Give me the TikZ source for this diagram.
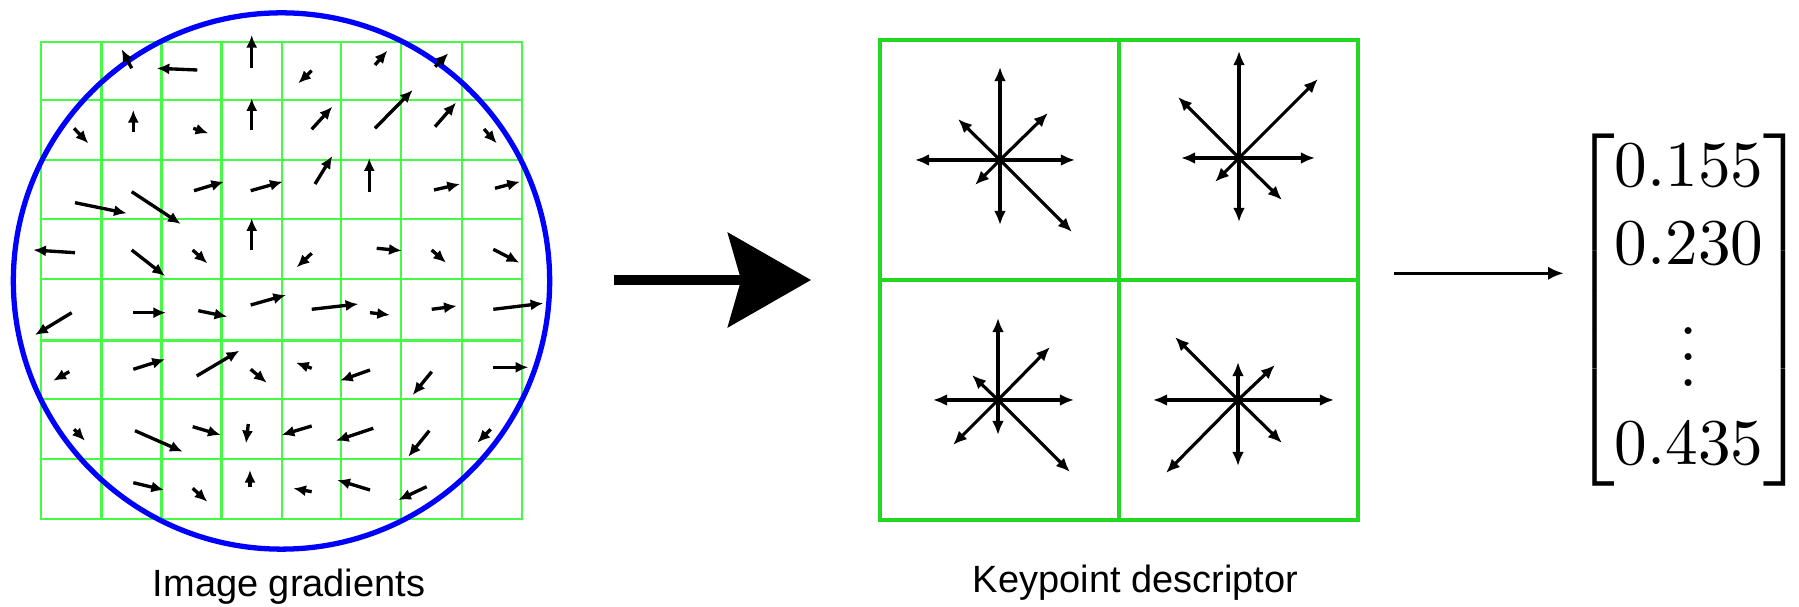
\documentclass[tikz,border=0pt]{standalone}
\usepackage{amsmath}
\usepackage{fontspec}
\newfontfamily\capfont{Liberation Sans}
\usetikzlibrary{arrows.meta}

\definecolor{gridgreen}{RGB}{70,250,70}
\definecolor{boxgreen}{RGB}{35,215,35}

\tikzset{
    gridline/.style={draw=gridgreen, line width=0.8pt},
    gradarrow/.style={line width=0.95pt, -{Latex[length=3.6pt, width=3.2pt]}},
    ray/.style={line width=0.9pt, -{Latex[length=4pt, width=3.4pt]}},
    caption/.style={font=\capfont\fontsize{10.8}{13}\selectfont, anchor=base, inner sep=0pt}
}

\begin{document}
\begin{tikzpicture}[x=0.01cm, y=-0.01cm]
    \useasboundingbox (0,0) rectangle (1799,607);

    % Sample grid
    \draw[gridline] (41,42) rectangle (522,519);
    \draw[gridline] (101.5,42) -- (101.5,519) (161.5,42) -- (161.5,519) (221.5,42) -- (221.5,519)
        (282,42) -- (282,519) (341,42) -- (341,519) (401,42) -- (401,519) (462,42) -- (462,519);
    \draw[gridline] (41,100) -- (522,100) (41,160) -- (522,160) (41,219) -- (522,219)
        (41,279) -- (522,279) (41,340.5) -- (522,340.5) (41,399) -- (522,399) (41,459) -- (522,459);

    % Gaussian window
    \node[circle, draw=blue, line width=1.5pt, minimum size=5.36cm, inner sep=0pt] (patch) at (281.5,281) {};

    % Gradients, row by row
    \draw[gradarrow] (131.7,68.3) -- (121.7,49.3);
    \draw[gradarrow] (197.3,70) -- (156.7,68.3);
    \draw[gradarrow] (251.7,68.3) -- (251.7,35);
    \draw[gradarrow] (311.7,70.7) -- (298.3,83.3);
    \draw[gradarrow] (375,65) -- (387.3,50.7);
    \draw[gradarrow] (435,66.7) -- (448.3,53.3);

    \draw[gradarrow] (74,128.3) -- (88.3,143.3);
    \draw[gradarrow] (133.3,131.7) -- (133.3,110);
    \draw[gradarrow] (193.3,128.3) -- (208.3,133.3);
    \draw[gradarrow] (251.7,130) -- (251.7,98.3);
    \draw[gradarrow] (311.7,129.3) -- (332.3,106.7);
    \draw[gradarrow] (375,128.3) -- (412.7,90);
    \draw[gradarrow] (435,126.7) -- (456,102.7);
    \draw[gradarrow] (484,129) -- (496.7,143.3);

    \draw[gradarrow] (75,202.7) -- (126.7,213.3);
    \draw[gradarrow] (131.7,191.7) -- (180.7,224);
    \draw[gradarrow] (194,190.7) -- (224,181.7);
    \draw[gradarrow] (250.7,190.7) -- (282.7,181.7);
    \draw[gradarrow] (315,184) -- (332.3,156);
    \draw[gradarrow] (369.3,191.7) -- (369.3,158.3);
    \draw[gradarrow] (434,190) -- (460,184);
    \draw[gradarrow] (495,188.3) -- (520,181.7);

    \draw[gradarrow] (75,252.7) -- (33.3,250);
    \draw[gradarrow] (131.7,250) -- (165,276);
    \draw[gradarrow] (192.7,250) -- (207.3,263.3);
    \draw[gradarrow] (251.7,250) -- (251.7,218.3);
    \draw[gradarrow] (311.7,253.3) -- (296.7,267.3);
    \draw[gradarrow] (376.7,248.3) -- (401.7,250.7);
    \draw[gradarrow] (431.7,250) -- (446,262.7);
    \draw[gradarrow] (493.3,249.3) -- (519.3,262.7);

    \draw[gradarrow] (71.7,312.7) -- (35,335);
    \draw[gradarrow] (133.3,312.7) -- (166,312.7);
    \draw[gradarrow] (198.3,310.7) -- (227.3,316.7);
    \draw[gradarrow] (250.7,305) -- (286,295);
    \draw[gradarrow] (311.7,309.3) -- (358.3,304);
    \draw[gradarrow] (370,312.7) -- (390,315);
    \draw[gradarrow] (431.7,309.3) -- (456.7,306);
    \draw[gradarrow] (493.3,309.3) -- (543.3,303.3);

    \draw[gradarrow] (69.3,371.7) -- (53.3,380.7);
    \draw[gradarrow] (133.3,369.3) -- (165,359.3);
    \draw[gradarrow] (196.7,376) -- (239.3,350.7);
    \draw[gradarrow] (250.7,369.3) -- (266.7,382.7);
    \draw[gradarrow] (311.7,368.3) -- (296,362.7);
    \draw[gradarrow] (370,370) -- (340,380.7);
    \draw[gradarrow] (431.7,371.7) -- (412.7,395);
    \draw[gradarrow] (493.3,367.3) -- (528.3,367.3);

    \draw[gradarrow] (74,429.3) -- (85,440.7);
    \draw[gradarrow] (135,430.7) -- (182.7,451.7);
    \draw[gradarrow] (192.7,426.7) -- (220.7,435);
    \draw[gradarrow] (248.3,424) -- (246,443.3);
    \draw[gradarrow] (311.7,426) -- (281.7,435);
    \draw[gradarrow] (373.3,428.3) -- (336,440.7);
    \draw[gradarrow] (429.3,430.7) -- (408.3,456.7);
    \draw[gradarrow] (490.7,429.3) -- (477.3,442.7);

    \draw[gradarrow] (133.3,482.7) -- (164,490);
    \draw[gradarrow] (192.7,488.3) -- (207.3,501.7);
    \draw[gradarrow] (250,487.3) -- (250,470);
    \draw[gradarrow] (311.7,491.7) -- (293.3,488.3);
    \draw[gradarrow] (370,490) -- (337.3,480);
    \draw[gradarrow] (426.7,486.7) -- (398.3,500);

    \node[caption] (gradcap) at (289,597) {Image gradients};

    % Descriptor, 2x2 histograms
    \node[draw=boxgreen, line width=1.1pt, minimum width=4.78cm, minimum height=4.8cm, inner sep=0pt] (desc) at (1119.2,280) {};
    \draw[boxgreen, line width=1.1pt] (desc.north) -- (desc.south) (desc.west) -- (desc.east);

    \coordinate (h1) at (1000,160);
    \coordinate (h2) at (1239,158);
    \coordinate (h3) at (998,400);
    \coordinate (h4) at (1238,400);

    \draw[ray] (h1) -- ++(0,-93);
    \draw[ray] (h1) -- ++(48,-47);
    \draw[ray] (h1) -- ++(75,0);
    \draw[ray] (h1) -- ++(72,72);
    \draw[ray] (h1) -- ++(0,65);
    \draw[ray] (h1) -- ++(-25,25);
    \draw[ray] (h1) -- ++(-85,0);
    \draw[ray] (h1) -- ++(-42,-41);

    \draw[ray] (h2) -- ++(0,-107);
    \draw[ray] (h2) -- ++(79,-79);
    \draw[ray] (h2) -- ++(76,0);
    \draw[ray] (h2) -- ++(43,42);
    \draw[ray] (h2) -- ++(0,64);
    \draw[ray] (h2) -- ++(-24,24);
    \draw[ray] (h2) -- ++(-58,0);
    \draw[ray] (h2) -- ++(-61,-61);

    \draw[ray] (h3) -- ++(0,-82);
    \draw[ray] (h3) -- ++(52,-53);
    \draw[ray] (h3) -- ++(76,0);
    \draw[ray] (h3) -- ++(72,72);
    \draw[ray] (h3) -- ++(0,35);
    \draw[ray] (h3) -- ++(-45,45);
    \draw[ray] (h3) -- ++(-65,0);
    \draw[ray] (h3) -- ++(-26,-25);

    \draw[ray] (h4) -- ++(0,-38);
    \draw[ray] (h4) -- ++(37,-35);
    \draw[ray] (h4) -- ++(96,0);
    \draw[ray] (h4) -- ++(44,43);
    \draw[ray] (h4) -- ++(0,66);
    \draw[ray] (h4) -- ++(-72,73);
    \draw[ray] (h4) -- ++(-85,0);
    \draw[ray] (h4) -- ++(-63,-63);

    \node[caption] (desccap) at (1135.5,593) {Keypoint descriptor};

    % Feature vector
    \node[inner sep=0pt, scale=1.855] (vec) at (1689,310) {$\begin{bmatrix}0.155\\0.230\\\vdots\\0.435\end{bmatrix}$};

    % Steps
    \draw[line width=2.85pt, -{Stealth[length=23.6pt, width=26.7pt, inset=3.7pt]}, shorten <=0.615cm, shorten >=0.67cm]
        (desc.west -| patch.east) -- (desc.west);
    \draw[line width=0.9pt, -{Latex[length=4.5pt, width=3.8pt]}, shorten <=0.34cm, shorten >=0.06cm]
        ([yshift=0.067cm]desc.east) -- ([yshift=0.067cm]desc.east -| vec.west);
\end{tikzpicture}
\end{document}
